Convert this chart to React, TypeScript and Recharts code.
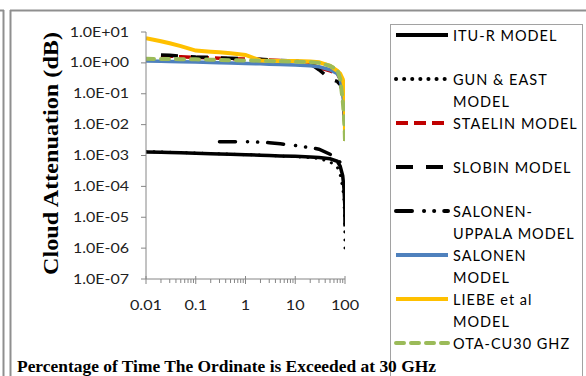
import { LineChart, Line, XAxis, YAxis } from "recharts";

// percentage of time (x) shared by all models
const pct = [0.01, 0.02, 0.03, 0.05, 0.1, 0.2, 0.3, 0.5, 1, 2, 3, 5, 10, 20, 30, 50, 70, 80, 90, 95, 99, 100];

// cloud attenuation in dB, one value per pct entry
const ituR = [1.3e-3, 1.27e-3, 1.25e-3, 1.22e-3, 1.18e-3, 1.14e-3, 1.12e-3, 1.09e-3, 1.05e-3, 1.02e-3, 1.0e-3, 9.7e-4, 9.4e-4, 9.0e-4, 8.6e-4, 7.8e-4, 6.5e-4, 4.5e-4, 2.2e-4, 9e-5, 2.5e-5, 5e-6];
const gunEast = [1.35e-3, 1.3e-3, 1.28e-3, 1.25e-3, 1.2e-3, 1.16e-3, 1.13e-3, 1.1e-3, 1.06e-3, 1.03e-3, 1.0e-3, 9.6e-4, 9.2e-4, 8.6e-4, 8.0e-4, 6.2e-4, 4.2e-4, 2.4e-4, 9e-5, 4e-5, 5e-6, 7e-7];
const staelin = [null, 1.7, 1.65, 1.58, 1.5, 1.45, 1.42, 1.38, 1.33, 1.28, 1.25, 1.2, 1.15, 1.05, 0.7, 0.55, 0.45, 0.3, 0.15, 0.06, 0.01, 0.003];
const slobin = [null, 1.8, 1.75, 1.65, 1.55, 1.5, 1.45, 1.4, 1.35, 1.3, 1.25, 1.2, 1.15, 0.95, 0.6, 0.3, 0.25, 0.2, 0.12, 0.05, 0.01, 0.003];
const salonenUppala = [null, null, null, null, null, null, 2.8e-3, 2.8e-3, 2.8e-3, 2.7e-3, 2.6e-3, 2.4e-3, 2.1e-3, 1.8e-3, 1.6e-3, 1.1e-3, 7.5e-4, 6e-4, 5e-4, 4.6e-4, 4.5e-4, 4.5e-4];
const salonen = [1.15, 1.13, 1.11, 1.09, 1.06, 1.03, 1.01, 0.99, 0.96, 0.93, 0.91, 0.88, 0.85, 0.8, 0.75, 0.6, 0.45, 0.3, 0.1, 0.04, 0.015, 0.003];
const liebe = [6.3, 5.0, 4.3, 3.5, 2.5, 2.3, 2.2, 2.05, 1.8, 1.2, 1.18, 1.16, 1.14, 1.1, 1.05, 0.8, 0.55, 0.45, 0.3, 0.2, 0.05, 0.003];
const ota = [1.35, 1.34, 1.33, 1.32, 1.3, 1.27, 1.25, 1.22, 1.2, 1.17, 1.15, 1.12, 1.1, 1.05, 1.0, 0.8, 0.6, 0.3, 0.06, 0.02, 0.006, 0.003];

const yTicks = [1e-7, 1e-6, 1e-5, 1e-4, 1e-3, 1e-2, 1e-1, 1, 10];
const xDecades = [0.01, 0.1, 1, 10];

const xTicks: number[] = [];
xDecades.forEach((d) => {
  for (let k = 1; k <= 9; k++) xTicks.push(d * k);
});
xTicks.push(100);

const series = [
  { key: "itu", name: ["ITU-R MODEL"], color: "#000000", width: 3.5, dash: undefined, cap: "butt", values: ituR },
  { key: "gun", name: ["GUN & EAST", "MODEL"], color: "#000000", width: 3, dash: "0.1 8", cap: "round", values: gunEast },
  { key: "staelin", name: ["STAELIN MODEL"], color: "#C00000", width: 3.5, dash: "12 6", cap: "butt", values: staelin },
  { key: "slobin", name: ["SLOBIN MODEL"], color: "#000000", width: 3.5, dash: "17 13", cap: "butt", values: slobin },
  { key: "salup", name: ["SALONEN-", "UPPALA MODEL"], color: "#000000", width: 3.5, dash: "16 12 0.1 10 0.1 10", cap: "round", values: salonenUppala },
  { key: "salonen", name: ["SALONEN", "MODEL"], color: "#4F81BD", width: 3.5, dash: undefined, cap: "butt", values: salonen },
  { key: "liebe", name: ["LIEBE et al", "MODEL"], color: "#FFC000", width: 4, dash: undefined, cap: "butt", values: liebe },
  { key: "ota", name: ["OTA-CU30  GHZ"], color: "#9BBB59", width: 4, dash: "8 7", cap: "round", values: ota },
];

const rows = pct.map((x, i) => {
  const r: Record<string, number | null> = { x };
  series.forEach((s) => (r[s.key] = s.values[i]));
  return r;
});

const AXIS = "#868686";
const TICK_FONT = "Lato, 'Liberation Sans', sans-serif";

const fmtExp = (v: number) => {
  const e = Math.round(Math.log10(v));
  return `1.0E${e < 0 ? "-" : "+"}${String(Math.abs(e)).padStart(2, "0")}`;
};

function XTick({ x, y, payload }: any) {
  const v = payload.value;
  const lg = Math.log10(v);
  const major = Math.abs(lg - Math.round(lg)) < 1e-6;
  return (
    <g transform={`translate(${x},${y})`}>
      <line x1={0} x2={0} y1={major ? -3 : 0} y2={major ? 5 : 4} stroke={AXIS} strokeWidth={1} />
      {major && (
        <text x={0} y={31} textAnchor="middle" fontFamily={TICK_FONT} fontSize={12.5} fill="#222" transform="scale(1.3,1)">
          {String(v)}
        </text>
      )}
    </g>
  );
}

function YTick({ x, y, payload }: any) {
  return (
    <g transform={`translate(${x},${y})`}>
      <line x1={-5} x2={0} y1={0} y2={0} stroke={AXIS} strokeWidth={1} />
      <g transform="translate(-17,0)">
        <text x={0} y={4.5} textAnchor="end" fontFamily={TICK_FONT} fontSize={12.5} fill="#222" transform="scale(1.28,1)">
          {fmtExp(payload.value)}
        </text>
      </g>
    </g>
  );
}

const LEG_FONT = "Lato, 'Liberation Sans', sans-serif";

export default function App() {
  return (
    <div style={{ position: "absolute", left: 0, top: 0, width: 586, height: 376, overflow: "hidden", background: "#fff" }}>
      <LineChart width={586} height={376} data={rows} margin={{ top: 32, right: 241, bottom: 67, left: 86 }}>
        <XAxis
          dataKey="x"
          type="number"
          scale="log"
          domain={[0.01, 100]}
          allowDataOverflow
          ticks={xTicks}
          interval={0}
          height={30}
          tickSize={0}
          tickMargin={0}
          tickLine={false}
          tick={<XTick />}
          axisLine={{ stroke: AXIS, strokeWidth: 1 }}
        />
        <YAxis
          type="number"
          scale="log"
          domain={[1e-7, 10]}
          allowDataOverflow
          ticks={yTicks}
          interval={0}
          width={60}
          tickSize={0}
          tickMargin={0}
          tickLine={false}
          tick={<YTick />}
          axisLine={{ stroke: AXIS, strokeWidth: 1 }}
        />
        {series.map((s) => (
          <Line
            key={s.key}
            dataKey={s.key}
            type="linear"
            stroke={s.color}
            strokeWidth={s.width}
            strokeDasharray={s.dash}
            strokeLinecap={s.cap as any}
            dot={false}
            activeDot={false}
            isAnimationActive={false}
          />
        ))}
      </LineChart>

      <svg width={586} height={376} style={{ position: "absolute", left: 0, top: 0, pointerEvents: "none" }}>
        {/* frames */}
        <line x1={3.5} x2={3.5} y1={10} y2={376} stroke="#8f8f8f" strokeWidth={2} />
        <line x1={0} x2={4} y1={10.5} y2={10.5} stroke="#8f8f8f" strokeWidth={2} />
        <line x1={10.5} x2={10.5} y1={10} y2={376} stroke="#8f8f8f" strokeWidth={2} />
        <line x1={10} x2={586} y1={10.5} y2={10.5} stroke="#8f8f8f" strokeWidth={2} />

        {/* legend */}
        <rect x={390.5} y={24.5} width={192} height={370} fill="none" stroke="#444" strokeDasharray="1 1" />
        {series.map((s, i) => {
          const cy = 35 + i * 44;
          return (
            <g key={s.key}>
              <line
                x1={396}
                x2={448}
                y1={cy}
                y2={cy}
                stroke={s.color}
                strokeWidth={4}
                strokeDasharray={s.dash}
                strokeLinecap={s.cap as any}
              />
              {s.name.map((t, j) => (
                <text key={j} x={453} y={cy + 5.5 + j * 22.5} fontFamily={LEG_FONT} fontSize={14.5} letterSpacing={1} fill="#000">
                  {t}
                </text>
              ))}
            </g>
          );
        })}

        {/* axis titles */}
        <text
          x={17}
          y={372}
          fontFamily="'Liberation Serif', serif"
          fontWeight="bold"
          fontSize={16.5}
          textLength={419}
          lengthAdjust="spacingAndGlyphs"
          fill="#000"
        >
          Percentage of Time The Ordinate is Exceeded at 30 GHz
        </text>
        <text
          transform="translate(57.5,153.5) rotate(-90)"
          textAnchor="middle"
          fontFamily="'Liberation Serif', serif"
          fontWeight="bold"
          fontSize={21}
          textLength={243}
          lengthAdjust="spacingAndGlyphs"
          fill="#000"
        >
          Cloud Attenuation (dB)
        </text>
      </svg>
    </div>
  );
}
